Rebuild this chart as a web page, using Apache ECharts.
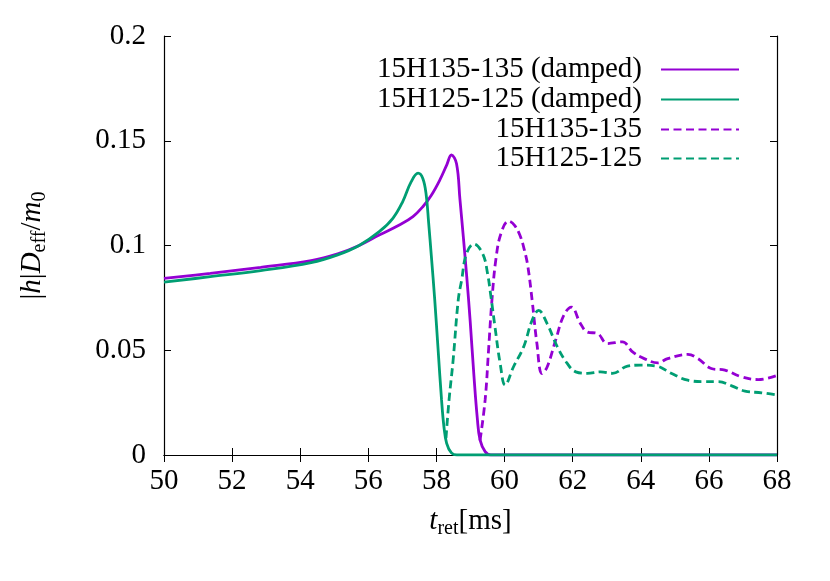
<!DOCTYPE html>
<html>
<head>
<meta charset="utf-8">
<script src="https://cdn.jsdelivr.net/npm/echarts@6/dist/echarts.min.js"></script>
<style>
  html, body { margin: 0; padding: 0; background: #fff; }
  #chart { width: 830px; height: 581px; }
</style>
</head>
<body>
<div id="chart"></div>
<script>
// values
const xTicks = [50, 52, 54, 56, 58, 60, 62, 64, 66, 68]
const yTicks = [0, 0.05, 0.1, 0.15, 0.2]

const names = ['15H135-135 (damped)', '15H125-125 (damped)', '15H135-135', '15H125-125']

const purpleDampedT = [50, 51.36, 52.84, 54.32, 55.1, 55.73, 56.32, 56.91, 57.31, 57.6, 57.85, 58.1, 58.3, 58.44, 58.59, 58.69, 58.79, 58.89, 58.99, 59.1, 59.2, 59.28, 59.43, 59.6, 68]
const purpleDampedV = [0.0843, 0.0867, 0.0896, 0.0928, 0.096, 0.1, 0.105, 0.1098, 0.1138, 0.1185, 0.124, 0.1313, 0.1384, 0.1432, 0.139, 0.122, 0.104, 0.085, 0.064, 0.038, 0.0175, 0.0072, 0.0016, 0, 0]

const greenDampedT = [50, 51.36, 52.84, 54.32, 55.1, 55.73, 56.32, 56.72, 57.01, 57.26, 57.46, 57.6, 57.7, 57.77, 57.85, 57.95, 58.05, 58.15, 58.22, 58.3, 58.44, 58.6, 68]
const greenDampedV = [0.0825, 0.0851, 0.088, 0.0918, 0.0955, 0.1, 0.1066, 0.113, 0.121, 0.1305, 0.1345, 0.132, 0.124, 0.111, 0.095, 0.074, 0.05, 0.0263, 0.0135, 0.0056, 0.001, 0, 0]

const purpleT = [59.28, 59.43, 59.53, 59.63, 59.75, 59.9, 60.12, 60.3, 60.46, 60.58, 60.68, 60.81, 60.95, 61.1, 61.25, 61.5, 61.74, 61.96, 62.23, 62.43, 62.73, 63.02, 63.46, 63.76, 64.1, 64.5, 64.79, 65.38, 65.68, 66.07, 66.47, 66.96, 67.45, 68]
const purpleV = [0.007, 0.0263, 0.05, 0.074, 0.094, 0.106, 0.1116, 0.1095, 0.1045, 0.098, 0.0905, 0.0738, 0.0532, 0.0389, 0.042, 0.0548, 0.0667, 0.0706, 0.0627, 0.0587, 0.058, 0.0532, 0.054, 0.0492, 0.046, 0.044, 0.046, 0.048, 0.046, 0.0413, 0.0405, 0.0373, 0.036, 0.038]

const greenT = [58.28, 58.37, 58.49, 58.64, 58.74, 58.88, 59.1, 59.36, 59.5, 59.6, 59.72, 59.87, 60.02, 60.26, 60.56, 60.81, 61.0, 61.25, 61.55, 61.84, 62.09, 62.43, 62.82, 63.17, 63.61, 64.0, 64.45, 64.89, 65.38, 65.88, 66.27, 66.67, 67.06, 67.55, 68]
const greenV = [0.008, 0.0263, 0.0453, 0.074, 0.0835, 0.096, 0.1007, 0.096, 0.0867, 0.0756, 0.061, 0.0438, 0.0334, 0.042, 0.0516, 0.0643, 0.069, 0.0627, 0.0516, 0.0437, 0.0397, 0.039, 0.0397, 0.039, 0.0424, 0.0429, 0.0425, 0.039, 0.0357, 0.035, 0.035, 0.033, 0.0305, 0.0297, 0.0286]

const PURPLE = '#9400d3'
const GREEN = '#009e73'
const FONT = '"Liberation Serif", "Times New Roman", "DejaVu Serif", serif'

const zip = (t, v) => t.map((x, i) => [x, v[i]])

const rich = {
  n: { fontFamily: FONT, fontSize: 29, lineHeight: 32, verticalAlign: 'top', color: '#000' },
  it: { fontFamily: FONT, fontSize: 29, fontStyle: 'italic', lineHeight: 32, verticalAlign: 'top', color: '#000' },
  sub: { fontFamily: FONT, fontSize: 20, lineHeight: 20, verticalAlign: 'bottom', color: '#000' }
}

const tick = { show: true, inside: true, length: 7, lineStyle: { color: '#000', width: 1 } }
const line = { show: true, lineStyle: { color: '#000', width: 1.2 } }
const label = { fontFamily: FONT, fontSize: 29, color: '#000' }

const legendRows = [68, 98, 128, 157]
const legends = names.map((name, i) => ({
  data: [name],
  right: 90,
  top: legendRows[i] - 13,
  align: 'right',
  itemWidth: 78,
  itemHeight: 14,
  padding: 0,
  selectedMode: false,
  itemStyle: { opacity: 0 },
  textStyle: { fontFamily: FONT, fontSize: 29, color: '#000', padding: [0, 14, 0, 0] }
}))

const chart = echarts.init(document.getElementById('chart'))

const lineSeries = (name, data, color, dashed) => ({
  name, type: 'line', data,
  showSymbol: false, symbol: 'none', smooth: 0.4, clip: true,
  lineStyle: dashed ? { color, width: 2.8, type: [8, 4.5] } : { color, width: 2.8 },
  itemStyle: { color }
})

chart.setOption({
  animation: false,
  backgroundColor: '#fff',
  grid: { left: 164, right: 53, top: 36, bottom: 126 },
  legend: legends,
  xAxis: [
    {
      type: 'value', min: 50, max: 68, interval: 2,
      axisLine: line, axisTick: tick, splitLine: { show: false },
      axisLabel: Object.assign({ margin: 12, formatter: v => xTicks.includes(v) ? String(v) : '' }, label),
      name: '{it|t}{sub|ret}{n|[ms]}',
      nameLocation: 'middle', nameGap: 52,
      nameTextStyle: { rich }
    },
    {
      type: 'value', position: 'top', min: 50, max: 68, interval: 2,
      axisLine: line, axisTick: tick, splitLine: { show: false }, axisLabel: { show: false }
    }
  ],
  yAxis: [
    {
      type: 'value', min: 0, max: 0.2, interval: 0.05,
      axisLine: line, axisTick: tick, splitLine: { show: false },
      axisLabel: Object.assign({ margin: 18, formatter: v => yTicks.some(t => Math.abs(t - v) < 1e-9) ? String(+v.toFixed(2)) : '' }, label),
      name: '{n||}{it|h}{n||}{it|D}{sub|eff}{n|/}{it|m}{sub|0}',
      nameLocation: 'middle', nameGap: 114, nameRotate: 90,
      nameTextStyle: { rich }
    },
    {
      type: 'value', position: 'right', min: 0, max: 0.2, interval: 0.05,
      axisLine: line, axisTick: tick, splitLine: { show: false }, axisLabel: { show: false }
    }
  ],
  series: [
    lineSeries(names[0], zip(purpleDampedT, purpleDampedV), PURPLE, false),
    lineSeries(names[1], zip(greenDampedT, greenDampedV), GREEN, false),
    lineSeries(names[2], zip(purpleT, purpleV), PURPLE, true),
    lineSeries(names[3], zip(greenT, greenV), GREEN, true)
  ]
})
</script>
</body>
</html>
